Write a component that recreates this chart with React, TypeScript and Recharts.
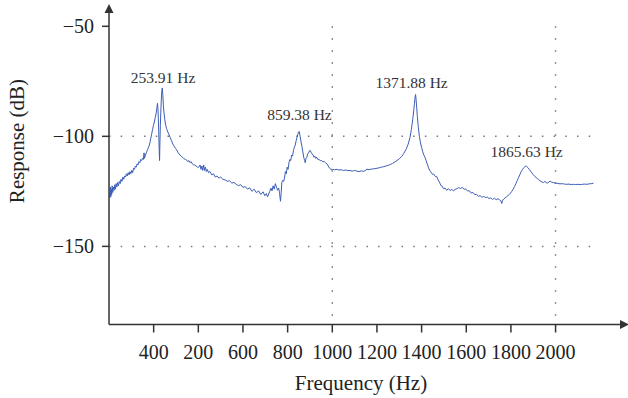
import React from 'react';
import {
  LineChart,
  Line,
  XAxis,
  YAxis,
  ReferenceLine,
  ReferenceDot,
  Label,
} from 'recharts';

// frequency (Hz) and response (dB)
const FREQ = [
  4, 6, 8, 10, 12, 14, 17, 20, 23, 26, 29, 32, 35, 38, 42, 46, 50, 54, 58, 62,
  66, 70, 74, 78, 82, 86, 90, 94, 98, 102, 106, 110, 114, 118, 122, 126, 130, 134, 138, 142,
  146, 150, 154, 157, 159, 163, 167, 171, 175, 179, 183, 187, 191, 195, 199, 203, 207, 211, 214, 217,
  219, 221, 223, 225, 226.5, 228, 230, 232, 234, 236, 238.5, 241, 243.5, 246, 250, 254, 258, 263, 268, 274,
  280, 286, 292, 298, 303, 310, 318, 326, 334, 342, 348, 353, 358, 363, 368, 373, 378, 384, 390, 396,
  402, 408, 412, 416, 420, 424, 428, 432, 436, 440, 446, 452, 460, 468, 476, 484, 492, 500, 510, 520,
  530, 540, 550, 560, 570, 580, 590, 600, 610, 620, 630, 640, 650, 660, 670, 680, 690, 698, 705, 710,
  715, 720, 725, 730, 735, 740, 745, 750, 755, 760, 764, 768, 771, 774, 778, 782, 786, 790, 794, 798,
  802, 806, 810, 814, 818, 822, 826, 830, 834, 838, 842, 846, 849, 852, 856, 860, 864, 868, 872, 876,
  879, 882, 886, 890, 894, 898, 902, 906, 910, 914, 918, 922, 926, 930, 935, 940, 946, 952, 958, 964,
  970, 976, 982, 988, 994, 1000, 1010, 1020, 1030, 1040, 1050, 1060, 1070, 1080, 1090, 1100, 1110, 1120, 1130, 1140,
  1150, 1155, 1160, 1170, 1180, 1190, 1200, 1210, 1220, 1230, 1240, 1250, 1260, 1270, 1280, 1290, 1300, 1310, 1320, 1330,
  1340, 1348, 1354, 1360, 1365, 1368, 1371, 1373, 1375, 1378, 1381, 1385, 1390, 1395, 1400, 1405, 1410, 1415, 1420, 1425,
  1430, 1436, 1442, 1448, 1455, 1462, 1468, 1474, 1480, 1486, 1492, 1498, 1505, 1512, 1520, 1528, 1535, 1542, 1550, 1558,
  1566, 1574, 1582, 1590, 1598, 1606, 1614, 1622, 1630, 1638, 1646, 1654, 1662, 1670, 1678, 1686, 1694, 1702, 1710, 1718,
  1726, 1734, 1742, 1750, 1755, 1759, 1763, 1768, 1774, 1780, 1786, 1792, 1798, 1804, 1810, 1816, 1822, 1828, 1834, 1840,
  1846, 1852, 1858, 1864, 1870, 1876, 1882, 1888, 1894, 1900, 1908, 1916, 1924, 1932, 1940, 1946, 1952, 1958, 1964, 1970,
  1976, 1982, 1990, 2000, 2010, 2020, 2030, 2040, 2050, 2060, 2070, 2080, 2090, 2100, 2110, 2120, 2130, 2140, 2150, 2160,
  2170,
];

const RESPONSE = [
  -128, -123, -127.5, -124, -126.5, -122.5, -125.5, -123, -124.5, -122, -124, -121.5, -123, -121, -122.5, -120.5, -121.5, -119.5, -120.5, -118.5,
  -119.5, -118, -118.5, -117, -118, -116.5, -117.5, -116, -117, -115.5, -116.5, -114.5, -115, -113.5, -114, -112.5, -113, -111.5, -112, -110.5,
  -111, -110, -110.5, -107.5, -110, -108.5, -107.5, -106.5, -105.5, -104.5, -103, -101, -99, -97, -95, -93.5, -91.5, -89.5, -87.5, -85,
  -87, -92, -99, -107, -111, -103, -95, -89, -84, -80, -78, -81, -86, -89, -92.5, -95, -96.5, -98, -99, -100.5,
  -102, -103.5, -104.5, -105.5, -106.2, -107.5, -108.5, -109.3, -110, -110.5, -110.8, -111.5, -111, -112, -111.5, -112.5, -113, -113, -113.5, -114,
  -114, -113, -115, -113.5, -115.5, -113, -115.5, -114, -116, -115, -116.5, -116, -117.5, -117, -118.5, -118, -119, -118.5, -119.5, -119.8,
  -120.4, -120.2, -121.2, -121, -121.8, -122.4, -122, -123.2, -122.8, -124, -123.4, -125, -124, -125.6, -124.8, -126.4, -125.2, -127, -126, -127.5,
  -126.2, -125, -123.5, -124.8, -122.5, -124, -121.5, -123, -124.5, -123.5, -126, -129.5, -126, -121, -120, -120.5, -119, -116, -117, -114,
  -115, -112, -110.5, -111, -108.5, -109, -106.5, -105, -104, -102, -100.5, -99, -98, -97.8, -100, -102.5, -104.5, -107, -109.5, -111,
  -112, -110, -109.5, -108, -107.5, -106.5, -106.5, -107.5, -108, -108.5, -109.5, -109, -110, -109.5, -110.5, -110.5, -111, -111, -111.5, -111.5,
  -112, -112.5, -113.5, -114.5, -115, -115, -115.2, -115, -115.3, -115.2, -115.5, -115.3, -115.6, -115.5, -115.8, -115.5, -115.8, -116, -115.7, -115.9,
  -115.5, -114.8, -115.2, -115, -114.8, -114.7, -114.5, -114.3, -114, -113.8, -113.5, -113.2, -112.8, -112.3, -111.7, -111, -110.2, -109.2, -107.8, -106,
  -103.5, -100.5, -97, -92.5, -88, -85, -82, -81, -83, -87, -91, -95.5, -100, -103, -105, -107, -108.5, -109.5, -111, -112.5,
  -114, -115.5, -116.3, -117.2, -117.2, -118.3, -118.3, -119.8, -120.8, -122.3, -122.6, -123.8, -123.5, -124.5, -123.8, -124.7, -124, -124.8, -124.1, -123.8,
  -123.3, -123.7, -123.2, -124, -124, -124.8, -124.7, -125.8, -125.5, -126.5, -126.3, -127.3, -126.9, -127.7, -127.3, -127.8, -127.6, -128.3, -127.9, -128.7,
  -128.1, -128.8, -128.3, -128.9, -129.3, -130.5, -129, -128.5, -128, -127.5, -127, -126.5, -125.8, -125, -124, -122.8, -121.5, -120.2, -118.8, -117.4,
  -116, -115, -114.2, -113.6, -113.6, -114.2, -115, -115.8, -116.6, -117.4, -118.3, -119, -119.7, -120.3, -120.8, -121, -120.5, -121, -121.3, -120.6,
  -120.4, -120.8, -121, -121.3, -121.4, -121.6, -121.5, -121.7, -121.8, -121.7, -121.9, -121.8, -121.9, -121.8, -121.9, -121.8, -121.7, -121.8, -121.6, -121.5,
  -121.3,
];

const X_TICKS = [200, 400, 600, 800, 1000, 1200, 1400, 1600, 1800, 2000];
const X_LABELS = ['400', '200', '600', '800', '1000', '1200', '1400', '1600', '1800', '2000'];
const Y_TICKS = [-50, -100, -150];

// peak annotations (label centre in data units)
const PEAK_LABELS = ['253.91 Hz', '859.38 Hz', '1371.88 Hz', '1865.63 Hz'];
const PEAK_F = [242, 853, 1355, 1870];
const PEAK_DB = [-73.3, -90.3, -75.7, -106.8];

const X_MAX = 2293;
const Y_MIN = -185.5;
const Y_MAX = -43.5;

const data = FREQ.map((f, i) => ({ f, db: RESPONSE[i] }));

const FONT = '"Liberation Serif", "Times New Roman", serif';
const AXIS = '#333';
const DOTS = '#777';

const UpArrow = ({ cx, cy }: any) => (
  <path d={`M${cx},${cy - 8} L${cx - 4.5},${cy + 1} L${cx + 4.5},${cy + 1} Z`} fill={AXIS} />
);

const RightArrow = ({ cx, cy }: any) => (
  <path d={`M${cx + 8},${cy} L${cx - 1},${cy - 4.5} L${cx - 1},${cy + 4.5} Z`} fill={AXIS} />
);

const YTitle = ({ viewBox }: any) => {
  const x = viewBox.x + 24;
  const y = viewBox.y + 129;
  return (
    <text x={x} y={y} transform={`rotate(-90 ${x} ${y})`} textAnchor="middle" fontSize={21} fill="#222" fontFamily={FONT}>
      Response (dB)
    </text>
  );
};

const XTitle = ({ viewBox }: any) => (
  <text x={viewBox.x + 252} y={viewBox.y + 65.5} textAnchor="middle" fontSize={21} fill="#222" fontFamily={FONT}>
    Frequency (Hz)
  </text>
);

const App: React.FC = () => {
  return (
    <div style={{ position: 'absolute', left: 0, top: 0, background: '#fff' }}>
      <LineChart width={628} height={398} data={data} margin={{ top: 12, right: 7, left: 0, bottom: 0 }}>
        <XAxis
          dataKey="f"
          type="number"
          domain={[0, X_MAX]}
          allowDataOverflow
          ticks={X_TICKS}
          interval={0}
          tickFormatter={(v: number, i: number) => X_LABELS[i] ?? String(v)}
          height={73.5}
          tickSize={8}
          tickMargin={12}
          stroke={AXIS}
          strokeWidth={1.5}
          tick={{ fill: '#222', fontSize: 20, fontFamily: FONT }}
        >
          <Label content={<XTitle />} />
        </XAxis>
        <YAxis
          type="number"
          domain={[Y_MIN, Y_MAX]}
          allowDataOverflow
          ticks={Y_TICKS}
          interval={0}
          tickFormatter={(v: number) => '\u2212' + Math.abs(v)}
          width={109}
          tickSize={7}
          tickMargin={8}
          stroke={AXIS}
          strokeWidth={1.5}
          tick={{ fill: '#222', fontSize: 20, fontFamily: FONT }}
        >
          <Label content={<YTitle />} />
        </YAxis>

        {/* dotted guides */}
        <ReferenceLine segment={[{ x: 0, y: -100 }, { x: 2165, y: -100 }]} stroke={DOTS} strokeWidth={1.5} strokeDasharray="1.5 10.2" />
        <ReferenceLine segment={[{ x: 0, y: -150 }, { x: 2165, y: -150 }]} stroke={DOTS} strokeWidth={1.5} strokeDasharray="1.5 10.2" />
        <ReferenceLine segment={[{ x: 1000, y: -50 }, { x: 1000, y: Y_MIN }]} stroke={DOTS} strokeWidth={1.5} strokeDasharray="1.5 10.5" />
        <ReferenceLine segment={[{ x: 2000, y: -50 }, { x: 2000, y: Y_MIN }]} stroke={DOTS} strokeWidth={1.5} strokeDasharray="1.5 10.5" />

        <Line
          type="linear"
          dataKey="db"
          stroke="#3d5db5"
          strokeWidth={1}
          dot={false}
          activeDot={false}
          isAnimationActive={false}
        />

        {PEAK_LABELS.map((t, i) => (
          <ReferenceDot
            key={t}
            x={PEAK_F[i]}
            y={PEAK_DB[i]}
            r={0}
            fill="none"
            stroke="none"
            ifOverflow="visible"
            label={{ value: t, position: 'center', fontSize: 15.5, fill: '#333', fontFamily: FONT }}
          />
        ))}

        {/* axis arrow heads */}
        <ReferenceDot x={0} y={Y_MAX} ifOverflow="visible" shape={<UpArrow />} />
        <ReferenceDot x={X_MAX} y={Y_MIN} ifOverflow="visible" shape={<RightArrow />} />
      </LineChart>
    </div>
  );
};

export default App;
